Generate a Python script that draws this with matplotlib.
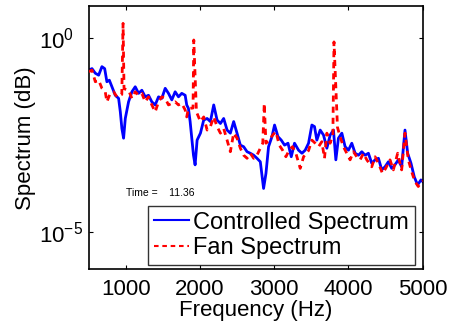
import matplotlib
matplotlib.use("Agg")
import matplotlib.pyplot as plt
import numpy as np

# ── data (frequency in Hz, spectrum as log10) ────────────────────────────────
ctrl_freq = [500, 543, 588, 633, 677, 714, 744, 777, 812, 857,
             902, 925, 946, 969, 992, 1036, 1081, 1126, 1171, 1215,
             1261, 1305, 1350, 1395, 1440, 1484, 1530, 1574, 1619, 1664,
             1709, 1753, 1799, 1820, 1843, 1866, 1911, 1933,
             1960, 2005, 2049, 2095, 2139, 2184, 2229, 2274, 2318, 2364,
             2408, 2453, 2498, 2543, 2587, 2633, 2677, 2722, 2767, 2812,
             2856, 2888, 2923, 2969, 3004, 3050, 3094, 3139, 3185, 3229,
             3273, 3327, 3373,
             3417, 3462, 3507, 3542, 3574, 3619, 3664, 3709, 3753, 3798,
             3830, 3865, 3911, 3955, 4000, 4045, 4090, 4135, 4180, 4224,
             4269, 4314, 4359, 4404, 4449, 4493, 4538, 4583, 4627, 4672,
             4717, 4762, 4798, 4843, 4887, 4932, 4977, 5000]
ctrl_log10 = [-0.82, -0.78, -0.90, -0.95, -0.73, -0.78, -1.12, -1.08, -1.25, -1.47,
              -1.55, -1.90, -2.33, -2.58, -2.07, -1.64, -1.38, -1.25, -1.42, -1.34,
              -1.51, -1.47, -1.64, -1.72, -1.51, -1.55, -1.29, -1.42, -1.59, -1.38,
              -1.51, -1.42, -1.47, -1.72, -1.81, -2.15, -3.02, -3.27,
              -2.63, -2.45, -2.11, -2.07, -2.15, -1.72, -2.11, -2.20, -2.07, -2.37,
              -2.45, -2.15, -2.45, -2.76, -2.80, -2.93, -2.97, -3.02, -3.10, -3.19,
              -3.88, -3.49, -2.80, -2.54, -2.24, -2.54, -2.63, -2.76, -2.71, -3.06,
              -2.71, -2.89, -2.97,
              -2.89, -2.71, -2.24, -2.28, -2.63, -2.37, -2.50, -2.84, -2.50, -2.37,
              -3.14, -2.58, -2.45, -2.80, -2.89, -2.71, -2.97, -3.02, -2.93, -3.02,
              -2.97, -3.23, -3.14, -3.10, -3.40, -3.32, -3.19, -3.36, -3.27, -3.14,
              -3.32, -2.37, -2.97, -3.23, -3.58, -3.79, -3.66, -3.70]

fan_freq = [500, 543, 588, 633, 677, 722, 744, 789, 834, 879,
            925, 945, 962, 975, 1036, 1081, 1126, 1171, 1215, 1261,
            1305, 1350, 1395, 1440, 1484, 1530, 1574, 1619, 1664, 1709,
            1753, 1799, 1820, 1843, 1905, 1915, 1951, 2005, 2049, 2095,
            2139, 2184, 2229, 2274, 2318, 2364, 2408, 2453, 2498, 2543,
            2587, 2633, 2677, 2722, 2767, 2812, 2845, 2865, 2888, 2933,
            2978, 3022, 3067, 3112, 3157, 3201, 3246, 3291, 3350, 3395,
            3462, 3507, 3552, 3597, 3641, 3677, 3709, 3753, 3790, 3805,
            3852, 3887, 3932, 3977, 4022, 4067, 4112, 4157, 4202, 4247,
            4314, 4359, 4413, 4458, 4502, 4560, 4605, 4663, 4717, 4762,
            4807, 4852, 4896, 4941, 4986, 5000]
fan_log10 = [-0.86, -0.82, -1.12, -1.08, -1.29, -1.38, -1.64, -1.42, -1.38, -1.51,
             -1.47, -1.45, 0.39, -1.30, -1.34, -1.55, -1.38, -1.47, -1.42, -1.64,
             -1.51, -1.72, -1.90, -1.64, -1.51, -1.55, -1.72, -1.68, -1.64, -1.72,
             -1.68, -1.85, -2.03, -1.81, -1.80, -0.04, -1.90, -2.15, -2.03, -2.37,
             -2.28, -2.03, -2.28, -2.45, -2.33, -2.63, -2.93, -2.45, -2.58, -2.84,
             -3.02, -3.10, -2.97, -3.10, -3.02, -2.84, -2.71, -1.68, -2.71, -2.63,
             -2.50, -2.41, -2.76, -2.89, -3.06, -2.89, -2.80, -2.97, -3.36, -3.06,
             -2.90, -2.63, -2.71, -2.80, -2.67, -3.10, -2.45, -2.71, -2.50, -0.09,
             -2.30, -2.54, -2.80, -2.97, -3.14, -2.93, -3.06, -3.14, -2.97, -3.14,
             -3.32, -3.06, -3.27, -3.49, -3.36, -3.14, -3.40, -2.97, -3.40, -2.45,
             -3.14, -3.45, -3.70, -3.83, -3.70, -3.68]

x_ticks = [1000, 2000, 3000, 4000, 5000]
y_ticks = [1e-5, 1e0]
time_value = 11.36

plt.rcParams["font.family"] = ["Liberation Sans", "DejaVu Sans"]
plt.rcParams["mathtext.fontset"] = "custom"
plt.rcParams["mathtext.rm"] = "Liberation Sans"
plt.rcParams["mathtext.it"] = "Liberation Sans:italic"
plt.rcParams["mathtext.default"] = "regular"

fig = plt.figure(figsize=(4.53, 3.24), dpi=100)
ax = fig.add_axes([0.196, 0.169, 0.737, 0.812])

ax.plot(ctrl_freq, 10 ** np.array(ctrl_log10), color="#0000ff",
        linewidth=2.0, label="Controlled Spectrum", zorder=2)
ax.plot(fan_freq, 10 ** np.array(fan_log10), color="#ff0000",
        linewidth=2.0, linestyle=(0, (2.2, 1.8)), label="Fan Spectrum", zorder=3)

ax.set_yscale("log")
ax.set_xlim(500, 5000)
ax.set_ylim(10 ** -5.97, 10 ** 0.835)
ax.set_xticks(x_ticks)
ax.set_yticks(y_ticks)
ax.minorticks_off()
ax.tick_params(direction="in", top=True, right=True, labelsize=16,
               length=3, width=0.8)
ax.tick_params(axis="x", pad=7)
ax.tick_params(axis="y", pad=36)
for lbl in ax.get_yticklabels():
    lbl.set_horizontalalignment("left")
for s in ax.spines.values():
    s.set_linewidth(1.2)

ax.set_xlabel("Frequency (Hz)", fontsize=16, labelpad=0)
ax.set_ylabel("Spectrum (dB)", fontsize=16, labelpad=2)

ax.text(0.112, 0.29, "Time =    %.2f" % time_value, transform=ax.transAxes,
        fontsize=7.5, ha="left", va="center")

leg = ax.legend(loc="lower right", bbox_to_anchor=(0.977, 0.016),
                fontsize=17, frameon=True, fancybox=False,
                handlelength=1.45, handletextpad=0.2, borderpad=0.25,
                labelspacing=0.15, borderaxespad=0)
leg.get_frame().set_edgecolor("black")
leg.get_frame().set_linewidth(1.0)
for h in leg.get_lines():
    h.set_linewidth(1.5)

fig.savefig("out.png", dpi=100)
